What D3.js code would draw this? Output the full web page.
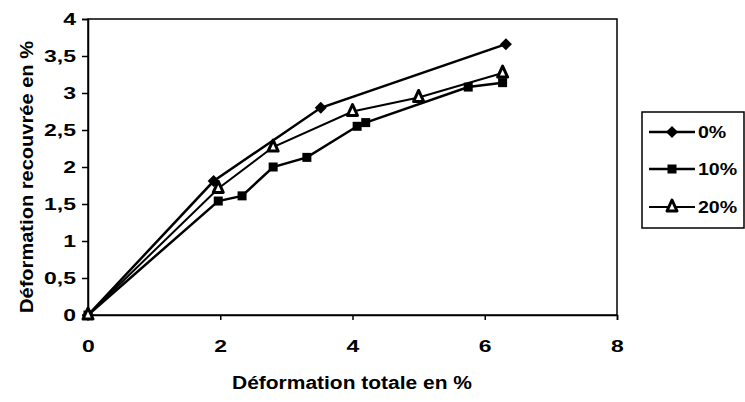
<!DOCTYPE html>
<html lang="fr">
<head>
  <meta charset="UTF-8">
  <title>Déformation recouvrée</title>
  <style>
    body { margin: 0; background: #fff; }
    svg { display: block; font-family: "Liberation Sans", Arial, sans-serif; }
    .axis path, .axis line { stroke: #000; stroke-width: 1.5px; }
  </style>
  <script src="https://d3js.org/d3.v7.min.js"></script>
</head>
<body>
  <div id="chart"></div>
  <script>
    // Données
    var seriesNames = ["0%", "10%", "20%"];
    var x0 = [0, 1.9, 3.52, 6.32];
    var y0 = [0, 1.81, 2.8, 3.66];
    var x10 = [0, 1.97, 2.33, 2.8, 3.31, 4.07, 4.2, 5.75, 6.27];
    var y10 = [0, 1.54, 1.61, 2.0, 2.13, 2.55, 2.6, 3.08, 3.14];
    var x20 = [0, 1.97, 2.8, 4.0, 5.0, 6.27];
    var y20 = [0, 1.71, 2.27, 2.75, 2.94, 3.27];
    var xTicks = [0, 2, 4, 6, 8];
    var yTicks = [0, 0.5, 1, 1.5, 2, 2.5, 3, 3.5, 4];

    var W = 745, H = 402;
    var margin = { top: 19, left: 88, right: 128, bottom: 87 };

    var svg = d3.select("#chart").append("svg")
      .attr("width", W)
      .attr("height", H);

    var x = d3.scaleLinear().domain([0, 8]).range([margin.left, W - margin.right]);
    var y = d3.scaleLinear().domain([0, 4]).range([H - margin.bottom, margin.top]);

    // élargit le texte (la police du scan est plus large qu'Arial)
    function widen(sel, k) {
      sel.each(function() {
        var w = this.getComputedTextLength();
        d3.select(this).attr("textLength", w * k).attr("lengthAdjust", "spacingAndGlyphs");
      });
    }

    // cadre du graphique
    svg.append("rect")
      .attr("x", x(0)).attr("y", y(4))
      .attr("width", x(8) - x(0)).attr("height", y(0) - y(4))
      .attr("fill", "none").attr("stroke", "#000").attr("stroke-width", 1.5);

    var fmt = function(d) { return String(d).replace(".", ","); };

    var xa = svg.append("g")
      .attr("class", "axis")
      .attr("transform", "translate(0," + y(0) + ")")
      .call(d3.axisBottom(x).tickValues(xTicks).tickSize(5).tickPadding(20).tickFormat(fmt));

    var ya = svg.append("g")
      .attr("class", "axis")
      .attr("transform", "translate(" + x(0) + ",0)")
      .call(d3.axisLeft(y).tickValues(yTicks).tickSize(6).tickPadding(6).tickFormat(fmt));

    [xa, ya].forEach(function(a) {
      a.attr("font-size", null).attr("font-family", null);
      var t = a.selectAll("text").attr("font-size", 17).attr("font-weight", "bold").attr("fill", "#000");
      widen(t, 1.35);
    });

    // titres des axes
    svg.append("text")
      .attr("x", 352)
      .attr("y", 389)
      .attr("text-anchor", "middle")
      .attr("font-size", 18).attr("font-weight", "bold")
      .attr("textLength", 240).attr("lengthAdjust", "spacingAndGlyphs")
      .text("Déformation totale en %");

    svg.append("text")
      .attr("transform", "translate(33,177) rotate(-90)")
      .attr("text-anchor", "middle")
      .attr("font-size", 18).attr("font-weight", "bold")
      .attr("textLength", 272).attr("lengthAdjust", "spacingAndGlyphs")
      .text("Déformation recouvrée en %");

    var diamond = "M0,-6L6,0L0,6L-6,0Z";

    var series = [
      { name: seriesNames[0], xs: x0, ys: y0, shape: "diamond", width: 2.5 },
      { name: seriesNames[1], xs: x10, ys: y10, shape: "square", width: 2.5 },
      { name: seriesNames[2], xs: x20, ys: y20, shape: "triangle", width: 2 }
    ];

    var line = d3.line().x(function(d) { return x(d[0]); }).y(function(d) { return y(d[1]); });

    function marker(g, s, cx, cy) {
      var t = "translate(" + cx + "," + cy + ")";
      if (s.shape === "triangle") {
        g.append("path")
          .attr("d", "M0,-7L5,4L-5,4Z")
          .attr("transform", t)
          .attr("fill", "#fff").attr("stroke", "#000").attr("stroke-width", 3)
          .attr("stroke-linejoin", "round");
      } else if (s.shape === "diamond") {
        g.append("path").attr("d", diamond).attr("transform", t).attr("fill", "#000");
      } else {
        g.append("rect").attr("x", cx - 4.5).attr("y", cy - 4.5)
          .attr("width", 9).attr("height", 9).attr("fill", "#000");
      }
    }

    series.forEach(function(s) {
      var pts = s.xs.map(function(v, i) { return [v, s.ys[i]]; });
      svg.append("path")
        .datum(pts)
        .attr("d", line)
        .attr("fill", "none")
        .attr("stroke", "#000")
        .attr("stroke-width", s.width);
      var g = svg.append("g");
      pts.forEach(function(p) { marker(g, s, x(p[0]), y(p[1])); });
    });

    // légende
    var lg = svg.append("g");
    lg.append("rect")
      .attr("x", 642).attr("y", 112).attr("width", 102).attr("height", 116)
      .attr("fill", "#fff").attr("stroke", "#000").attr("stroke-width", 1.5);
    var ly = [132, 169, 207];
    series.forEach(function(s, i) {
      lg.append("line")
        .attr("x1", 649).attr("x2", 695).attr("y1", ly[i]).attr("y2", ly[i])
        .attr("stroke", "#000").attr("stroke-width", s.width);
      marker(lg, s, 672, ly[i]);
      var t = lg.append("text")
        .attr("x", 698).attr("y", ly[i] + 6)
        .attr("font-size", 17).attr("font-weight", "bold")
        .text(s.name);
      widen(t, 1.15);
    });
  </script>
</body>
</html>
